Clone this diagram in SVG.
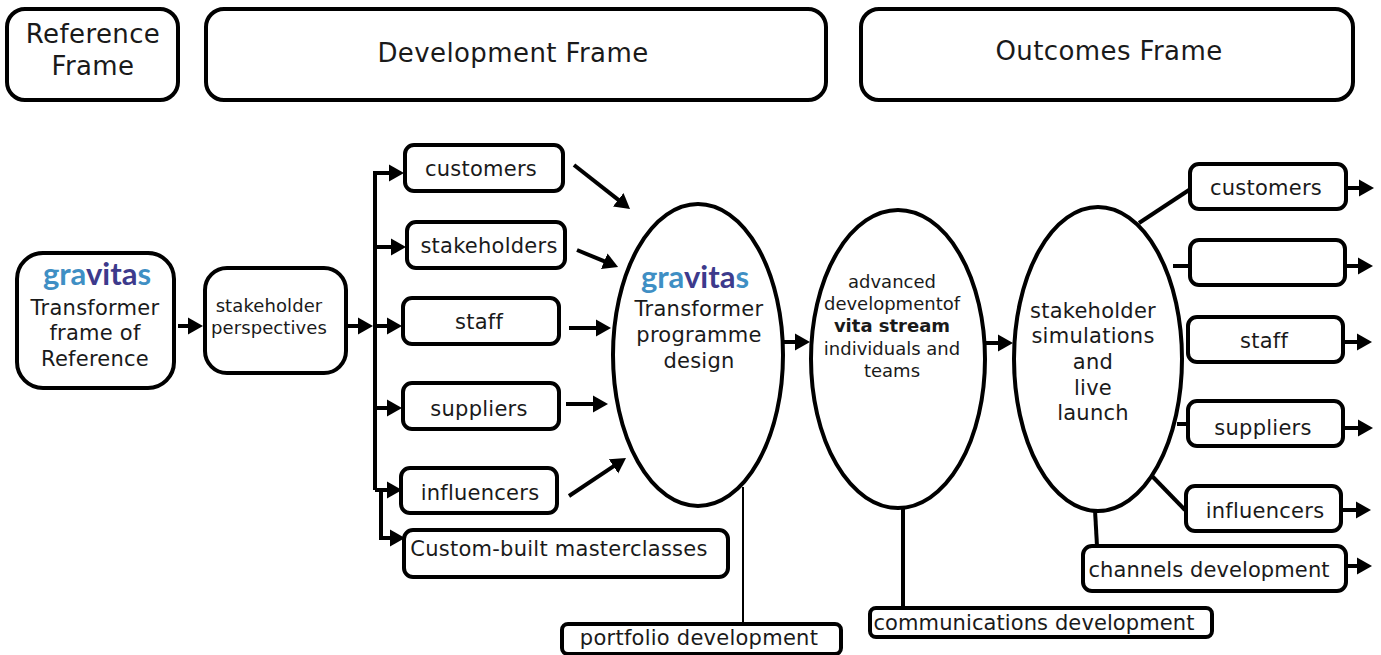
<svg xmlns="http://www.w3.org/2000/svg" width="1381" height="655" viewBox="0 0 1381 655">
<style>
text{font-family:"DejaVu Sans",Verdana,sans-serif;fill:#1a1a1a;text-anchor:middle}
.b{fill:#fff;stroke:#000;stroke-width:4}
.c{fill:none;stroke:#000;stroke-width:4}
.t{fill:none;stroke:#000;stroke-width:2}
.s{font-size:21px;letter-spacing:.25px}.n{letter-spacing:.1px}.l{font-size:26px;letter-spacing:.4px}.x{font-size:18px}.p{font-size:18px;letter-spacing:.1px}
.logo{font-family:"Lato",sans-serif;font-weight:700;font-size:31px;letter-spacing:0}
.g{fill:#3f8fc4}.v{fill:#3d3a8c}
</style>
<defs><marker id="a" markerUnits="userSpaceOnUse" markerWidth="16" markerHeight="18" refX="3" refY="9" orient="auto" viewBox="0 0 16 18"><path d="M0 0.5L15 9L0 17.5Z" fill="#000"/></marker></defs>
<g id="connectors">
<path class="c" d="M178 326H191" marker-end="url(#a)"/>
<path class="c" d="M348 326H361" marker-end="url(#a)"/>
<path class="c" d="M375 326H390" marker-end="url(#a)"/>
<path class="c" d="M375 490V173H392" marker-end="url(#a)"/>
<path class="c" d="M375 247H394" marker-end="url(#a)"/>
<path class="c" d="M375 408H390" marker-end="url(#a)"/>
<path class="c" d="M375 490H390" marker-end="url(#a)"/>
<path class="c" d="M381 490V538H393" marker-end="url(#a)"/>
<path class="c" d="M574 165L620.6 201.6" marker-end="url(#a)"/>
<path class="c" d="M577 250L607 262.4" marker-end="url(#a)"/>
<path class="c" d="M569 328H599" marker-end="url(#a)"/>
<path class="c" d="M566 404H596" marker-end="url(#a)"/>
<path class="c" d="M569 496L616 464.7" marker-end="url(#a)"/>
<path class="c" d="M784 342H798" marker-end="url(#a)"/>
<path class="c" d="M985 343H1001" marker-end="url(#a)"/>
<path class="t" d="M743 487V624"/>
<path class="c" d="M903 508V608"/>
<path class="c" d="M1139 223L1189 190"/>
<path class="c" d="M1173 266H1189"/>
<path class="c" d="M1177 424H1188"/>
<path class="c" d="M1152 476L1185 510"/>
<path class="c" d="M1095 510L1097 546"/>
<path class="c" d="M1347 188H1362" marker-end="url(#a)"/>
<path class="c" d="M1347 266H1361" marker-end="url(#a)"/>
<path class="c" d="M1345 342H1360" marker-end="url(#a)"/>
<path class="c" d="M1345 428H1361" marker-end="url(#a)"/>
<path class="c" d="M1343 510H1359" marker-end="url(#a)"/>
<path class="c" d="M1347 566H1360" marker-end="url(#a)"/>
</g>
<g id="n-reference-frame"><rect class="b" x="7" y="9" width="171" height="91" rx="18"/><text class="l" x="93" y="43">Reference</text><text class="l" x="93" y="75">Frame</text></g>
<g id="n-development-frame"><rect class="b" x="206" y="9" width="620" height="91" rx="18"/><text class="l" x="513" y="62">Development Frame</text></g>
<g id="n-outcomes-frame"><rect class="b" x="861" y="9" width="492" height="91" rx="18"/><text class="l" x="1109" y="60">Outcomes Frame</text></g>
<g id="n-transformer-frame"><rect class="b" x="17" y="253" width="157" height="135" rx="26"/>
<text class="logo" x="97" y="285"><tspan class="g">gra</tspan><tspan class="v">vita</tspan><tspan class="g">s</tspan></text>
<text class="s" x="95" y="315">Transformer</text><text class="s" x="95" y="340">frame of</text><text class="s" x="95" y="366">Reference</text></g>
<g id="n-perspectives"><rect class="b" x="205" y="268" width="141" height="105" rx="22"/><text class="p" x="269" y="312">stakeholder</text><text class="p" x="269" y="334">perspectives</text></g>
<g id="n-customers"><rect class="b" x="405" y="145" width="158" height="46" rx="9"/><text class="s" x="481" y="176">customers</text></g>
<g id="n-stakeholders"><rect class="b" x="407" y="222" width="158" height="46" rx="9"/><text class="s" x="489" y="253">stakeholders</text></g>
<g id="n-staff"><rect class="b" x="403" y="298" width="156" height="46" rx="9"/><text class="s" x="479" y="329">staff</text></g>
<g id="n-suppliers"><rect class="b" x="403" y="383" width="156" height="46" rx="9"/><text class="s" x="479" y="416">suppliers</text></g>
<g id="n-influencers"><rect class="b" x="401" y="468" width="156" height="45" rx="9"/><text class="s" x="480" y="500">influencers</text></g>
<g id="n-masterclasses"><rect class="b" x="404" y="530" width="324" height="47" rx="9"/><text class="s" x="559" y="556">Custom-built masterclasses</text></g>
<g id="n-programme"><ellipse class="b" cx="698" cy="355" rx="85" ry="151"/>
<text class="logo" x="695" y="288"><tspan class="g">gra</tspan><tspan class="v">vita</tspan><tspan class="g">s</tspan></text>
<text class="s" x="699" y="316">Transformer</text><text class="s" x="699" y="342">programme</text><text class="s" x="699" y="368">design</text></g>
<g id="n-advanced"><ellipse class="b" cx="898" cy="359" rx="87" ry="149"/><text class="x" x="892" y="288">advanced</text><text class="x" x="892" y="310">developmentof</text><text class="x" x="892" y="332" font-weight="700">vita stream</text><text class="x" x="892" y="355">individuals and</text><text class="x" x="892" y="377">teams</text></g>
<g id="n-simulations"><ellipse class="b" cx="1098" cy="359" rx="84" ry="152"/><text class="s" x="1093" y="318">stakeholder</text><text class="s" x="1093" y="343">simulations</text><text class="s" x="1093" y="369">and</text><text class="s" x="1093" y="395">live</text><text class="s" x="1093" y="420">launch</text></g>
<g id="n-out-customers"><rect class="b" x="1190" y="164" width="156" height="45" rx="9"/><text class="s" x="1266" y="195">customers</text></g>
<g id="n-out-blank"><rect class="b" x="1190" y="240" width="155" height="45" rx="9"/></g>
<g id="n-out-staff"><rect class="b" x="1188" y="317" width="155" height="45" rx="9"/><text class="s" x="1264" y="348">staff</text></g>
<g id="n-out-suppliers"><rect class="b" x="1188" y="401" width="155" height="45" rx="9"/><text class="s" x="1263" y="435">suppliers</text></g>
<g id="n-out-influencers"><rect class="b" x="1186" y="486" width="155" height="45" rx="9"/><text class="s" x="1265" y="518">influencers</text></g>
<g id="n-channels"><rect class="b" x="1083" y="546" width="263" height="45" rx="9"/><text class="s n" x="1209" y="577">channels development</text></g>
<g id="n-portfolio"><rect class="b" x="562" y="624" width="279" height="30" rx="6"/><text class="s" x="699" y="645">portfolio development</text></g>
<g id="n-communications"><rect class="b" x="870" y="608" width="342" height="29" rx="6"/><text class="s n" x="1034" y="630">communications development</text></g>
</svg>
